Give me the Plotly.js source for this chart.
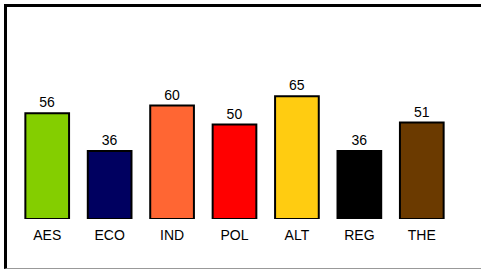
<!DOCTYPE html>
<html>
<head>
<meta charset="utf-8">
<script src="https://cdn.plot.ly/plotly-3.0.1.min.js"></script>
<style>
html,body{margin:0;padding:0;background:#fff;width:481px;height:271px;overflow:hidden;}
#frame{position:absolute;left:4px;top:4px;width:480px;height:265px;border-top:3px solid #000;border-left:3px solid #000;border-bottom:1px solid #999;box-sizing:border-box;}
#chart{position:absolute;left:0;top:0;width:481px;height:271px;}
</style>
</head>
<body>
<div id="frame"></div>
<div id="chart"></div>
<script>
const categories = ["AES", "ECO", "IND", "POL", "ALT", "REG", "THE"];
const values = [56, 36, 60, 50, 65, 36, 51];
const barColors = ["#84CE00", "#000060", "#FF6633", "#FF0000", "#FFCC11", "#000000", "#6B3A00"];

Plotly.newPlot("chart", [{
  type: "bar",
  x: categories,
  y: values,
  text: values.map(String),
  textposition: "outside",
  cliponaxis: false,
  textfont: {family: "Liberation Sans, Arial, sans-serif", size: 14, color: "#000"},
  marker: {color: barColors, line: {color: "#000", width: 2}},
  hoverinfo: "none"
}], {
  width: 481, height: 271,
  margin: {l: 16, r: 28, t: 30, b: 52, pad: 0},
  paper_bgcolor: "rgba(0,0,0,0)",
  plot_bgcolor: "rgba(0,0,0,0)",
  bargap: 0.3,
  showlegend: false,
  font: {family: "Liberation Sans, Arial, sans-serif", size: 14, color: "#000"},
  xaxis: {type: "category", showgrid: false, zeroline: false, showline: false, ticks: "", ticklabelstandoff: 6, fixedrange: true},
  yaxis: {visible: false, range: [0, 100], fixedrange: true}
}, {displayModeBar: false, staticPlot: true});
</script>
</body>
</html>
